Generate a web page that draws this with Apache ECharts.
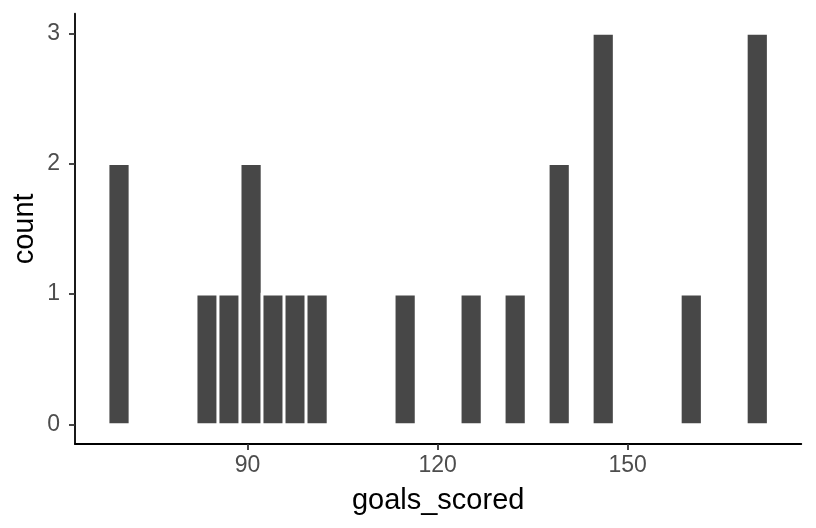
<!DOCTYPE html>
<html>
<head>
<meta charset="utf-8">
<script src="https://cdn.jsdelivr.net/npm/echarts@6/dist/echarts.min.js"></script>
<style>
html,body{margin:0;padding:0;background:#fff;}
#chart{width:816px;height:528px;}
</style>
</head>
<body>
<div id="chart"></div>
<script>
// Histogram bins (centers) and counts
const binCenters = [69.71, 83.61, 87.08, 90.56, 94.03, 97.51, 100.98, 114.88, 125.30, 132.25, 139.20, 146.15, 160.05, 170.47];
const counts     = [2, 1, 1, 2, 1, 1, 1, 1, 1, 1, 2, 3, 1, 3];
const binWidth = 3.4745;
const xTicks = [90, 120, 150];
const yTicks = [0, 1, 2, 3];
const xRange = [62.76, 177.42];
const yRange = [-0.15, 3.15];

const data = binCenters.map((c, i) => [c, counts[i]]);

const chart = echarts.init(document.getElementById('chart'), null, {renderer: 'canvas'});
const font = 'Liberation Sans, Arial, sans-serif';
chart.setOption({
  animation: false,
  backgroundColor: '#ffffff',
  grid: {left: 75, right: 14.7, top: 13.7, bottom: 83.9, containLabel: false},
  xAxis: {
    type: 'value', min: xRange[0], max: xRange[1],
    name: 'goals_scored', nameLocation: 'middle', nameGap: 42,
    nameTextStyle: {fontFamily: font, fontSize: 29, color: '#000000'},
    axisLine: {show: true, onZero: false, lineStyle: {color: '#000000', width: 1.8}},
    axisTick: {show: true, length: 6, customValues: xTicks, lineStyle: {color: '#333333', width: 1.8}},
    axisLabel: {show: true, margin: 10, customValues: xTicks, fontFamily: font, fontSize: 23, color: '#4d4d4d'},
    splitLine: {show: false}
  },
  yAxis: {
    type: 'value', min: yRange[0], max: yRange[1],
    name: 'count', nameLocation: 'middle', nameGap: 36, nameRotate: 90, nameMoveOverlap: false,
    nameTextStyle: {fontFamily: font, fontSize: 29, color: '#000000'},
    axisLine: {show: true, onZero: false, lineStyle: {color: '#000000', width: 1.8}},
    axisTick: {show: true, length: 6, customValues: yTicks, lineStyle: {color: '#333333', width: 1.8}},
    axisLabel: {show: true, margin: 15, customValues: yTicks, fontFamily: font, fontSize: 23, color: '#4d4d4d'},
    splitLine: {show: false}
  },
  series: [{
    type: 'custom',
    data: data,
    renderItem: function (params, api) {
      const c = api.value(0), n = api.value(1);
      const p0 = api.coord([c - binWidth / 2, n]);
      const p1 = api.coord([c + binWidth / 2, 0]);
      return {
        type: 'rect',
        shape: {x: p0[0], y: p0[1], width: p1[0] - p0[0], height: p1[1] - p0[1]},
        style: {fill: '#474747', stroke: '#ffffff', lineWidth: 2.8}
      };
    }
  }]
});
</script>
</body>
</html>
